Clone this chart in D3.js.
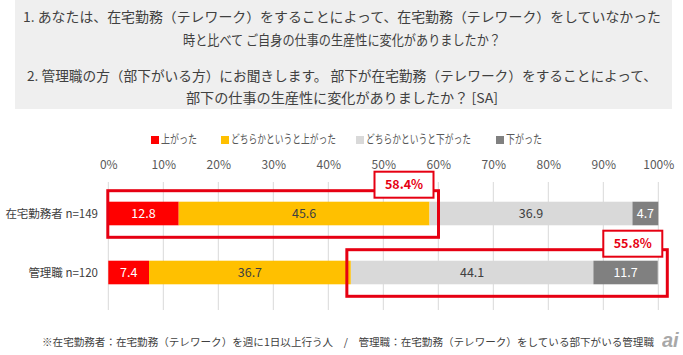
<!DOCTYPE html>
<html><head><meta charset="utf-8">
<script src="https://cdn.jsdelivr.net/npm/d3@7"></script>
<style>
html,body{margin:0;padding:0;background:#fff;}
svg{display:block;font-family:"Noto Sans CJK JP","Noto Sans",sans-serif;}
</style></head>
<body>
<svg id="c" width="683" height="355"></svg>
<script>
const titleLines = [
  "1. あなたは、在宅勤務（テレワーク）をすることによって、在宅勤務（テレワーク）をしていなかった",
  "時と比べて ご自身の仕事の生産性に変化がありましたか？",
  "2. 管理職の方（部下がいる方）にお聞きします。 部下が在宅勤務（テレワーク）をすることによって、",
  "部下の仕事の生産性に変化がありましたか？ [SA]"
];
const seriesNames = ["上がった","どちらかというと上がった","どちらかというと下がった","下がった"];
const categories = ["在宅勤務者 n=149","管理職 n=120"];
const upValues = [12.8, 7.4];
const ratherUpValues = [45.6, 36.7];
const ratherDownValues = [36.9, 44.1];
const downValues = [4.7, 11.7];
const tickValues = [0,10,20,30,40,50,60,70,80,90,100];
const tickLabels = ["0%","10%","20%","30%","40%","50%","60%","70%","80%","90%","100%"];
const highlightLabels = ["58.4%","55.8%"];
const footnote = "※在宅勤務者：在宅勤務（テレワーク）を週に1日以上行う人　/　管理職：在宅勤務（テレワーク）をしている部下がいる管理職";

const colors = ["#ff0000","#ffc000","#d9d9d9","#808080"];
const textColors = ["#ffffff","#404040","#404040","#ffffff"];
const series = [upValues, ratherUpValues, ratherDownValues, downValues];

const svg = d3.select("#c");

// question box
svg.append("rect").attr("x",15).attr("y",0).attr("width",657).attr("height",109).attr("fill","#efefef");
const tl = [
  {y:17, w:638},
  {y:40, w:318},
  {y:76, w:630},
  {y:98, w:312}
];
titleLines.forEach((t,i)=>{
  svg.append("text").attr("x",342).attr("y",tl[i].y).attr("dy","0.35em")
    .attr("text-anchor","middle").attr("font-size",13.5).attr("fill","#404040")
    .attr("textLength",tl[i].w).attr("lengthAdjust","spacingAndGlyphs").text(t);
});

// legend
const legX = [151, 221, 356, 496];
const legW = [36, 105, 105, 36];
seriesNames.forEach((n,i)=>{
  svg.append("rect").attr("x",legX[i]).attr("y",136).attr("width",8).attr("height",8).attr("fill",colors[i]);
  svg.append("text").attr("x",legX[i]+10).attr("y",140).attr("dy","0.35em")
    .attr("font-size",12).attr("fill","#595959")
    .attr("textLength",legW[i]).attr("lengthAdjust","spacingAndGlyphs").text(n);
});

const x = d3.scaleLinear().domain([0,100]).range([108.3,658.3]);
const y = d3.scaleBand().domain(categories).range([184,302]).paddingInner(0.6).paddingOuter(0.3);

// gridlines
svg.append("g").selectAll("line").data(tickValues).join("line")
  .attr("x1",d=>x(d)).attr("x2",d=>x(d)).attr("y1",182).attr("y2",310)
  .attr("stroke","#d9d9d9").attr("stroke-width",1);

// top axis labels
const ax = d3.axisTop(x).tickValues(tickValues).tickFormat((d,i)=>tickLabels[i]).tickSize(0);
const axG = svg.append("g").attr("transform","translate(0,172)").call(ax);
axG.select(".domain").remove();
axG.selectAll("text").attr("font-size",12).attr("fill","#595959")
  .attr("font-family","'Noto Sans CJK JP',sans-serif");

// stacked bars
const stackData = categories.map((c,ci)=>{
  let acc = 0;
  return series.map((s,si)=>{ const o={c, si, x0:acc, x1:acc+s[ci], v:s[ci]}; acc+=s[ci]; return o; });
}).flat();

svg.append("g").selectAll("rect").data(stackData).join("rect")
  .attr("x",d=>x(d.x0)).attr("width",d=>x(d.x1)-x(d.x0))
  .attr("y",d=>y(d.c)).attr("height",y.bandwidth())
  .attr("fill",d=>colors[d.si]);

svg.append("g").selectAll("text").data(stackData).join("text")
  .attr("x",d=>(x(d.x0)+x(d.x1))/2).attr("y",d=>y(d.c)+y.bandwidth()/2).attr("dy","0.36em")
  .attr("text-anchor","middle").attr("font-size",12.5).attr("fill",d=>textColors[d.si])
  .text(d=>d.v.toFixed(1));

// category labels
svg.append("g").selectAll("text").data(categories).join("text")
  .attr("x",98).attr("y",d=>y(d)+y.bandwidth()/2).attr("dy","0.35em")
  .attr("text-anchor","end").attr("font-size",11.5).attr("fill","#404040").text(d=>d);

// highlight boxes
const boxes = [
  {x0:x(0)-0.5, x1:x(upValues[0]+ratherUpValues[0])+9, c:categories[0], label:highlightLabels[0]},
  {x0:x(upValues[1]+ratherUpValues[1])-4, x1:x(100)+9, c:categories[1], label:highlightLabels[1]}
];
boxes.forEach(b=>{
  const top = y(b.c)-11, bot = y(b.c)+y.bandwidth()+12;
  svg.append("rect").attr("x",b.x0).attr("y",top).attr("width",b.x1-b.x0).attr("height",bot-top)
    .attr("fill","none").attr("stroke","#e60012").attr("stroke-width",3);
  const lw = 59, lh = 26;
  const lx = b.x1-5-lw, ly = top-19;
  svg.append("rect").attr("x",lx).attr("y",ly).attr("width",lw).attr("height",lh)
    .attr("fill","#ffffff").attr("stroke","#e60012").attr("stroke-width",2);
  svg.append("text").attr("x",lx+lw/2).attr("y",ly+lh/2).attr("dy","0.36em")
    .attr("text-anchor","middle").attr("font-size",12.5).attr("font-weight","bold")
    .attr("fill","#e60012").text(b.label);
});

// footnote
svg.append("text").attr("x",42).attr("y",342).attr("dy","0.35em").attr("text-anchor","start")
  .attr("font-size",10.4).attr("fill","#404040")
  .attr("textLength",612).attr("lengthAdjust","spacingAndGlyphs").text(footnote);

// watermark
svg.append("text").attr("x",662).attr("y",347).attr("font-size",20).attr("font-weight","bold")
  .attr("font-style","italic").attr("font-family","'Liberation Sans',sans-serif")
  .attr("fill","#9a9a9a").attr("opacity",0.85).text("ai");
</script>
</body></html>
